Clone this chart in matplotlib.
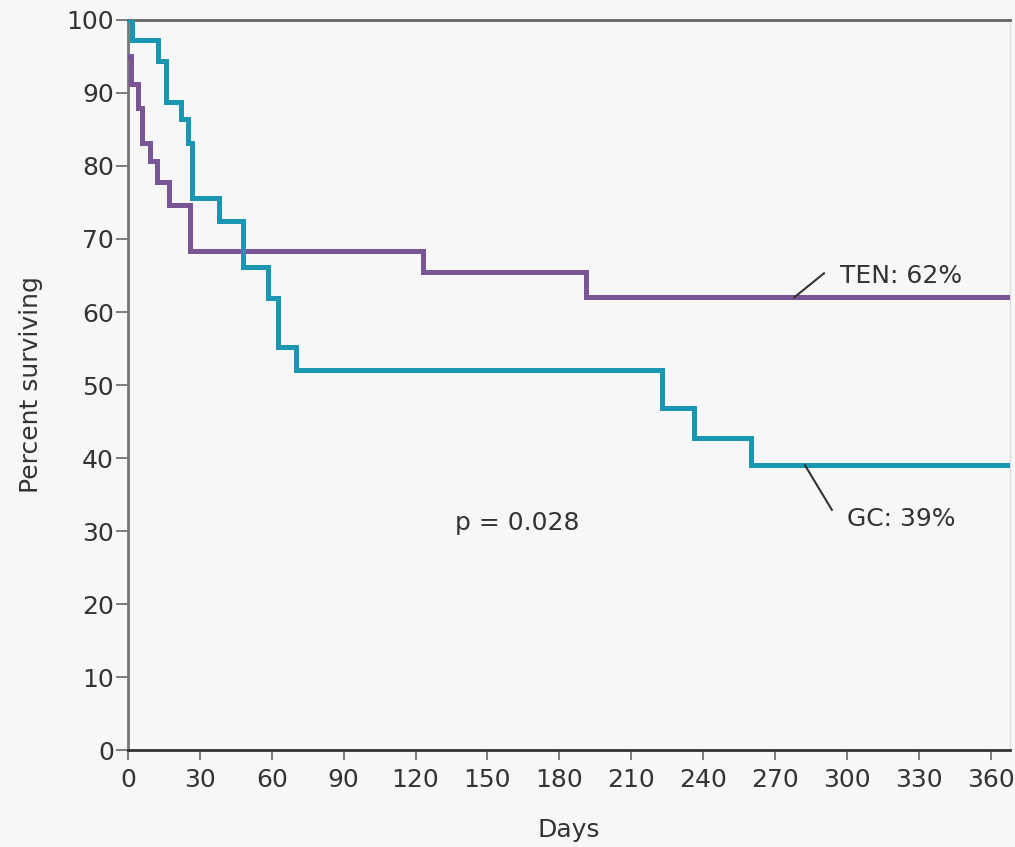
"""Kaplan-Meier survival, TEN vs GC, first year of follow-up."""

import matplotlib

matplotlib.use("Agg")
import matplotlib.pyplot as plt  # noqa: E402

# step curves: day of each drop and percent surviving after it
ten_days = [0, 1.2, 4, 6, 9, 12, 17, 26, 123, 191, 370]
ten_pct = [95.1, 91.2, 87.9, 83.2, 80.7, 77.8, 74.7, 68.4, 65.5, 62, 62]

gc_days = [0, 1.5, 12.5, 16, 22, 25, 26.5, 38, 48, 58.5, 62.5, 70,
           223, 236, 260, 370]
gc_pct = [100, 97.2, 94.4, 88.7, 86.4, 83.2, 75.6, 72.4, 66.1, 61.9, 55.2,
          52.1, 46.8, 42.8, 39, 39]

x_ticks = list(range(0, 361, 30))
y_ticks = list(range(0, 101, 10))

TEN_COLOR = "#7a5596"
GC_COLOR = "#1a96b3"
BG = "#f7f7f7"
TXT = "#333333"
FS = 18

plt.rcParams["font.family"] = ["DejaVu Sans"]

fig = plt.figure(figsize=(10.15, 8.47), dpi=100, facecolor=BG)
ax = fig.add_axes([0.1261, 0.1145, 0.8689, 0.8619], facecolor=BG)

ax.step(ten_days, ten_pct, where="post", color=TEN_COLOR, lw=3.6,
        solid_joinstyle="miter", zorder=3)
ax.step(gc_days, gc_pct, where="post", color=GC_COLOR, lw=3.6,
        solid_joinstyle="miter", zorder=4)

ax.set_xlim(0, 368)
ax.set_ylim(0, 100)
ax.set_xticks(x_ticks)
ax.set_yticks(y_ticks)
ax.tick_params(axis="y", direction="out", length=9, width=1.2, pad=1,
               colors="#666666", labelcolor=TXT, labelsize=FS)
ax.tick_params(axis="x", direction="out", length=7, width=1.2, pad=6,
               colors="#666666", labelcolor=TXT, labelsize=FS)

ax.spines["left"].set_color("#777777")
ax.spines["left"].set_linewidth(2)
ax.spines["bottom"].set_color("#333333")
ax.spines["bottom"].set_linewidth(2)
ax.spines["top"].set_color("#666666")
ax.spines["top"].set_linewidth(2)
ax.spines["right"].set_color("#dddddd")
ax.spines["right"].set_linewidth(1)

ax.set_xlabel("Days", fontsize=FS, color=TXT, labelpad=19)
ax.set_ylabel("Percent surviving", fontsize=FS, color=TXT, labelpad=17)

# leader lines and labels for the final survival of each arm
ax.plot([278, 290.4], [ten_pct[-1], 65.3], color=TXT, lw=1.5, zorder=5)
ax.text(297, 64.9, f"TEN: {ten_pct[-1]:.0f}%", fontsize=FS, color=TXT,
        va="center")
ax.plot([282.5, 293.7], [gc_pct[-1], 32.9], color=TXT, lw=1.5, zorder=5)
ax.text(300, 31.6, f"GC: {gc_pct[-1]:.0f}%", fontsize=FS, color=TXT,
        va="center")

ax.text(162.5, 31.1, "p = 0.028", fontsize=FS, color=TXT, ha="center",
        va="center")

fig.savefig("out.png", dpi=100, facecolor=BG)
